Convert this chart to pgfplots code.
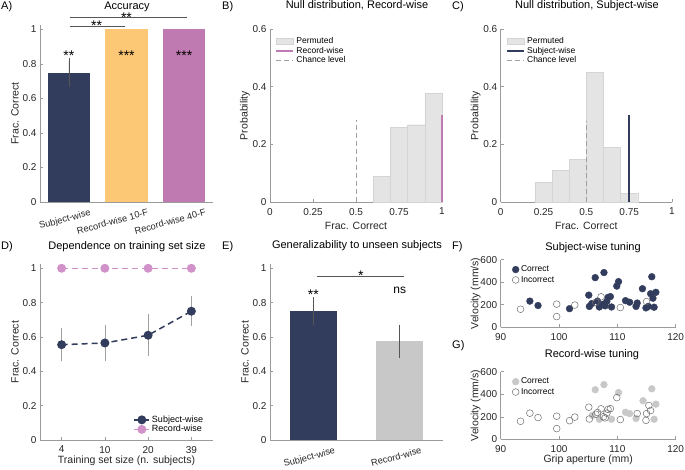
\documentclass[border=0pt]{standalone}
\usepackage{pgfplots}
\pgfplotsset{compat=1.18}
\usepackage{fontspec}
\setmainfont{Liberation Sans}
\definecolor{navy}{RGB}{50,60,92}
\definecolor{orng}{RGB}{253,200,118}
\definecolor{purp}{RGB}{191,122,178}
\definecolor{lpurp}{RGB}{208,146,200}
\definecolor{histg}{RGB}{228,228,228}
\definecolor{histe}{RGB}{212,212,212}
\definecolor{barg}{RGB}{200,200,200}
\definecolor{axg}{RGB}{155,155,155}
\definecolor{txtg}{RGB}{38,38,38}
\definecolor{errg}{RGB}{85,85,85}
\definecolor{chg}{RGB}{160,160,160}
\definecolor{opg}{RGB}{110,110,110}

\pgfplotsset{
  mstyle/.style={
    scale only axis,
    anchor=south west,
    axis x line*=bottom, axis y line*=left,
    axis line style={axg, line width=0.6pt},
    tick style={axg, line width=0.5pt},
    tick align=inside,
    major tick length=3pt,
    ticklabel style={font=\fontsize{10}{12}\selectfont, text=txtg},
    xticklabel style={yshift=-2.5pt},
    /pgf/number format/assume math mode=true,
    label style={font=\fontsize{10.5}{12}\selectfont, text=txtg},
    ylabel style={at={(axis description cs:0,0.5)}, anchor=center, yshift=25pt},
    xlabel style={at={(axis description cs:0.5,0)}, anchor=center, yshift=-22pt},
    legend cell align=left,
    clip=false,
  },
  rotlab/.style={xticklabel style={font=\fontsize{9.3}{11}\selectfont, xshift=23pt, rotate=15, anchor=north east}},
}
\tikzset{sstar/.style={font=\fontsize{14}{14}\selectfont, anchor=base, inner sep=0pt}}

\begin{document}
\begin{tikzpicture}[x=1pt,y=1pt]
\useasboundingbox (0,0) rectangle (685,470);

% ---------------- A ----------------
\begin{axis}[mstyle, rotlab, at={(40pt,268pt)}, width=173pt, height=177pt,
  xmin=0.5, xmax=3.5, ymin=0, ymax=1.026,
  ytick={0,0.2,0.4,0.6,0.8,1}, xtick={1,2,3},
  xticklabels={Subject-wise,Record-wise 10-F,Record-wise 40-F},
  ylabel={Frac. Correct}]
\addplot[ybar, bar width=0.73, bar shift=0pt, fill=navy, draw=none,
  error bars/.cd, y dir=both, y explicit,
  error bar style={errg, line width=0.6pt},
  error mark options={errg, line width=0.6pt, mark size=3pt}]
  coordinates {(1,0.75) +- (0,0.065)};
\addplot[ybar, bar width=0.73, bar shift=0pt, fill=orng, draw=none] coordinates {(2,1)};
\addplot[ybar, bar width=0.73, bar shift=0pt, fill=purp, draw=none] coordinates {(3,1)};
\draw[errg, line width=0.7pt] (axis cs:1.02,1.02) -- (axis cs:1.97,1.02);
\draw[errg, line width=0.7pt] (axis cs:1.02,1.07) -- (axis cs:3.05,1.07);
\node[sstar] at (axis cs:1.48,0.993) {**};
\node[sstar] at (axis cs:2.0,1.043) {**};
\node[sstar] at (axis cs:1,0.819) {**};
\node[sstar] at (axis cs:2,0.819) {***};
\node[sstar] at (axis cs:3,0.819) {***};
\end{axis}

% ---------------- B ----------------
\begin{axis}[mstyle, at={(270pt,268pt)}, width=172pt, height=173pt,
  xmin=0, xmax=1, ymin=0, ymax=0.6,
  xtick={0,0.25,0.5,0.75,1}, ytick={0,0.2,0.4,0.6},
  xlabel={Frac. Correct}, ylabel={Probability}, xlabel style={yshift=-2pt},
  legend style={at={(axis description cs:0.03,0.965)}, anchor=north west, draw=none, fill=none,
    font=\fontsize{8.5}{9}\selectfont, row sep=-2pt, inner sep=0pt}]
\addplot[ybar interval, fill=histg, draw=histe, line width=0.4pt, area legend]
  coordinates {(0.6,0.089) (0.7,0.259) (0.8,0.268) (0.9,0.378) (1.0,0.378)};
\addlegendentry{Permuted}
\addplot[purp, line width=2pt] coordinates {(1,0) (1,0.3)};
\addlegendentry{Record-wise}
\addplot[chg, line width=1pt, dash pattern=on 5pt off 3pt] coordinates {(0.5,0) (0.5,0.284)};
\addlegendentry{Chance level}
\end{axis}

% ---------------- C ----------------
\begin{axis}[mstyle, at={(500.7pt,268pt)}, width=171.3pt, height=173pt,
  xmin=0, xmax=1, ymin=0, ymax=0.6,
  xtick={0,0.25,0.5,0.75,1}, ytick={0,0.2,0.4,0.6},
  xlabel={Frac. Correct}, ylabel={Probability}, xlabel style={yshift=-2pt},
  legend style={at={(axis description cs:0.03,0.965)}, anchor=north west, draw=none, fill=none,
    font=\fontsize{8.5}{9}\selectfont, row sep=-2pt, inner sep=0pt}]
\addplot[ybar interval, fill=histg, draw=histe, line width=0.4pt, area legend]
  coordinates {(0.2,0.068) (0.3,0.109) (0.4,0.149) (0.5,0.45) (0.6,0.19) (0.7,0.029) (0.8,0.029)};
\addlegendentry{Permuted}
\addplot[navy, line width=2pt] coordinates {(0.75,0) (0.75,0.3)};
\addlegendentry{Subject-wise}
\addplot[chg, line width=1pt, dash pattern=on 5pt off 3pt] coordinates {(0.5,0) (0.5,0.28)};
\addlegendentry{Chance level}
\end{axis}

% ---------------- D ----------------
\begin{axis}[mstyle, at={(40pt,30pt)}, width=173pt, height=176pt,
  xmin=0.5, xmax=4.5, ymin=0, ymax=1.025,
  xtick={1,2,3,4}, xticklabels={4,10,20,39},
  ytick={0,0.2,0.4,0.6,0.8,1},
  xlabel={Training set size (n. subjects)}, ylabel={Frac. Correct},
  xlabel style={yshift=1pt},
  legend image code/.code={\draw[mark repeat=2,mark phase=2] plot coordinates {(0cm,0cm) (0.26cm,0cm) (0.52cm,0cm)};},
  legend style={at={(axis description cs:0.955,0.025)}, anchor=south east, draw=none, fill=none,
    font=\fontsize{9}{10}\selectfont, row sep=-2.5pt, inner sep=0pt}]
\addplot[navy, line width=1.5pt, dash pattern=on 6pt off 4pt,
  mark=*, mark size=3.7pt, mark options={solid, fill=navy, draw=navy},
  error bars/.cd, y dir=both, y explicit,
  error bar style={solid, chg, line width=0.6pt},
  error mark options={solid, chg, line width=0.6pt, mark size=3pt}]
  coordinates {(1,0.555) +- (0,0.08) (2,0.565) +- (0,0.09) (3,0.61) +- (0,0.105) (4,0.75) +- (0,0.07)};
\addlegendentry{Subject-wise}
\addplot[lpurp, line width=1.5pt, dash pattern=on 6pt off 4pt,
  mark=*, mark size=3.7pt, mark options={solid, fill=lpurp, draw=lpurp}]
  coordinates {(1,1) (2,1) (3,1) (4,1)};
\addlegendentry{Record-wise}
\end{axis}

% ---------------- E ----------------
\begin{axis}[mstyle, rotlab, at={(270pt,30pt)}, width=173pt, height=176pt,
  xmin=0.5, xmax=2.5, ymin=0, ymax=1.025,
  xtick={1,2}, xticklabels={Subject-wise,Record-wise},
  ytick={0,0.2,0.4,0.6,0.8,1}, ylabel={Frac. Correct}]
\addplot[ybar, bar width=0.54, bar shift=0pt, fill=navy, draw=none,
  error bars/.cd, y dir=both, y explicit,
  error bar style={errg, line width=0.6pt},
  error mark options={errg, line width=0.6pt, mark size=3pt}]
  coordinates {(1,0.75) +- (0,0.063)};
\addplot[ybar, bar width=0.54, bar shift=0pt, fill=barg, draw=none,
  error bars/.cd, y dir=both, y explicit,
  error bar style={errg, line width=0.6pt},
  error mark options={errg, line width=0.6pt, mark size=3pt}]
  coordinates {(2,0.575) +- (0,0.08)};
\draw[errg, line width=0.7pt] (axis cs:1.04,0.951) -- (axis cs:2.05,0.951);
\node[sstar] at (axis cs:1.55,0.93) {*};
\node[sstar] at (axis cs:1,0.817) {**};
\node[font=\fontsize{12}{12}\selectfont, anchor=base, inner sep=0pt] at (axis cs:2,0.853) {ns};
\end{axis}

% ---------------- F ----------------
\begin{axis}[mstyle, at={(500.7pt,142.7pt)}, width=175pt, height=67.7pt,
  xmin=90, xmax=120, ymin=0, ymax=600,
  xtick={90,100,110,120}, ytick={0,200,400,600},
  ylabel={Velocity (mm/s)},
  legend style={at={(axis description cs:0.065,0.94)}, anchor=north west, draw=none, fill=none,
    font=\fontsize{8.5}{9}\selectfont, row sep=-1pt, inner sep=0pt}]
\addplot[only marks, mark=*, mark size=3.4pt, mark options={fill=navy, draw=navy}]
  coordinates {(95.0,232)(96.4,193)(101.8,165)(105.1,285)(105.2,185)(105.6,210)(106.2,440)(107.7,485)
  (106.9,180)(107.6,205)(108.4,265)(108.8,272)(108.2,230)(109.0,180)(107.9,190)(109.9,365)
  (110.2,405)(111.4,236)(112.1,222)(113.2,185)(113.4,215)(114.3,342)(114.9,172)(115.9,448)
  (115.7,298)(116.1,258)(116.3,178)(116.6,310)(115.3,185)(106.6,232)};
\addlegendentry{Correct}
\addplot[only marks, mark=o, mark size=3.4pt, mark options={draw=opg, line width=0.5pt, fill=none}]
  coordinates {(93.4,160)(99.6,205)(99.6,95)(102.7,197)(106.3,222)(107.2,270)(110.5,175)(115.0,228)};
\addlegendentry{Incorrect}
\end{axis}

% ---------------- G ----------------
\begin{axis}[mstyle, at={(500.7pt,30.7pt)}, width=175pt, height=67.6pt,
  xmin=90, xmax=120, ymin=0, ymax=600,
  xtick={90,100,110,120}, ytick={0,200,400,600},
  ylabel={Velocity (mm/s)}, xlabel={Grip aperture (mm)}, xlabel style={yshift=2pt},
  legend style={at={(axis description cs:0.065,0.94)}, anchor=north west, draw=none, fill=none,
    font=\fontsize{8.5}{9}\selectfont, row sep=-1pt, inner sep=0pt}]
\addplot[only marks, mark=*, mark size=3.4pt, mark options={fill=barg, draw=barg}]
  coordinates {(106.2,440)(107.7,485)(110.2,415)(115.9,448)(114.4,342)(116.6,312)(111.4,240)
  (112.1,228)(113.2,185)(106.9,178)(109.0,178)(116.3,178)(105.7,212)};
\addlegendentry{Correct}
\addplot[only marks, mark=o, mark size=3.4pt, mark options={draw=opg, line width=0.5pt, fill=none}]
  coordinates {(93.4,160)(95.0,232)(96.4,193)(99.6,205)(99.6,95)(101.8,165)(102.7,197)
  (105.1,285)(105.2,180)(106.3,222)(106.6,238)(107.2,270)(107.6,200)(107.9,190)(108.4,265)
  (108.8,272)(108.2,232)(109.9,370)(110.5,175)(113.4,228)(114.9,168)(115.0,228)(115.4,300)(115.7,255)};
\addlegendentry{Incorrect}
\end{axis}

% ---------------- titles & panel labels ----------------
\begin{scope}[every node/.style={font=\fontsize{11}{12}\selectfont, inner sep=0pt}]
\node[anchor=base] at (127,460.5) {Accuracy};
\node[anchor=base] at (357,461) {Null distribution, Record-wise};
\node[anchor=base] at (587,461) {Null distribution, Subject-wise};
\node[anchor=base] at (127,220.7) {Dependence on training set size};
\node[anchor=base] at (357,221) {Generalizability to unseen subjects};
\node[anchor=base] at (593,219) {Subject-wise tuning};
\node[anchor=base] at (592,112.5) {Record-wise tuning};
\node[anchor=base west] at (1,460.7) {A)};
\node[anchor=base west] at (222,460.7) {B)};
\node[anchor=base west] at (452,460.7) {C)};
\node[anchor=base west] at (1,220) {D)};
\node[anchor=base west] at (222,220) {E)};
\node[anchor=base west] at (452,220) {F)};
\node[anchor=base west] at (452,121.7) {G)};
\end{scope}
\end{tikzpicture}
\end{document}
